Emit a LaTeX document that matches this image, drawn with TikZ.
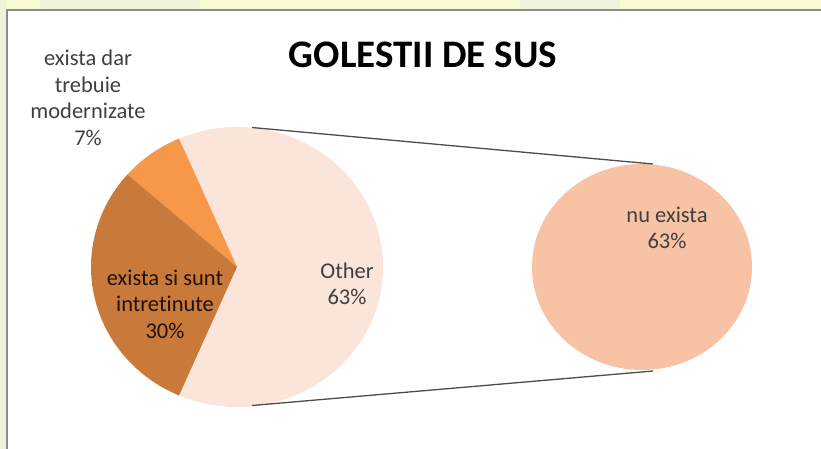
\documentclass[tikz,border=0pt]{standalone}
\usepackage{fontspec}
\setmainfont{Carlito}[Ligatures=NoCommon]
\usetikzlibrary{calc}
\begin{document}
\begin{tikzpicture}[x=1pt,y=-1pt,
  lbl/.style={align=center,text=black!75,font=\fontsize{22.5}{26.5}\selectfont,inner sep=0pt},
  conn/.style={draw=black!70,line width=1.3pt}]
\definecolor{bgyel}{HTML}{F8FAD4}
\definecolor{bggrn}{HTML}{EEF3DA}
\definecolor{othercol}{HTML}{FBE4DA}
\definecolor{orangecol}{HTML}{F6974A}
\definecolor{browncol}{HTML}{C97A3A}
\definecolor{nucol}{HTML}{F8C2A5}
\useasboundingbox (0,0) rectangle (821,449);
% background
\fill[white] (0,0) rectangle (821,449);
\fill[bgyel] (0,0) rectangle (821,9.5);
\fill[bggrn] (0,0) rectangle (6,449);
\fill[bggrn!70!bgyel] (40,0) rectangle (200,9.5);
\fill[bggrn] (520,0) rectangle (620,9.5);
\draw[black!45,line width=1.2pt] (7,449) -- (7,10) -- (821,10);
% title
\node[font=\bfseries\fontsize{39}{44}\selectfont,text=black,inner sep=0pt] (title) at (423,55) {GOLESTII DE SUS};
% pie
\coordinate (pc) at (237,267);
\fill[othercol] (pc) -- ($(pc)+(-113.4:146 and 140)$) arc[start angle=-113.4,end angle=113.4,x radius=146,y radius=140] -- cycle;
\fill[orangecol] (pc) -- ($(pc)+(-113.4:146 and 140)$) arc[start angle=-113.4,end angle=-138.6,x radius=146,y radius=140] -- cycle;
\fill[browncol] (pc) -- ($(pc)+(-138.6:146 and 140)$) arc[start angle=-138.6,end angle=-246.6,x radius=146,y radius=140] -- cycle;
% second circle
\coordinate (nc) at (642,267);
\fill[nucol] (nc) ellipse[x radius=110,y radius=103];
% connectors
\coordinate (t1) at (252,127.5);
\coordinate (t2) at (653,164);
\coordinate (b1) at (252,405.5);
\coordinate (b2) at (653,371);
\draw[conn] (t1) -- (t2);
\draw[conn] (b1) -- (b2);
% labels
\node[lbl] (l7) at (88,98) {exista dar\\trebuie\\modernizate\\7\%};
\node[lbl,text={black!85!browncol}] (l30) at (165,304) {exista si sunt\\intretinute\\30\%};
\node[lbl] (lo) at (347,284) {Other\\63\%};
\node[lbl] (ln) at (667,228) {nu exista\\63\%};
\end{tikzpicture}
\end{document}
